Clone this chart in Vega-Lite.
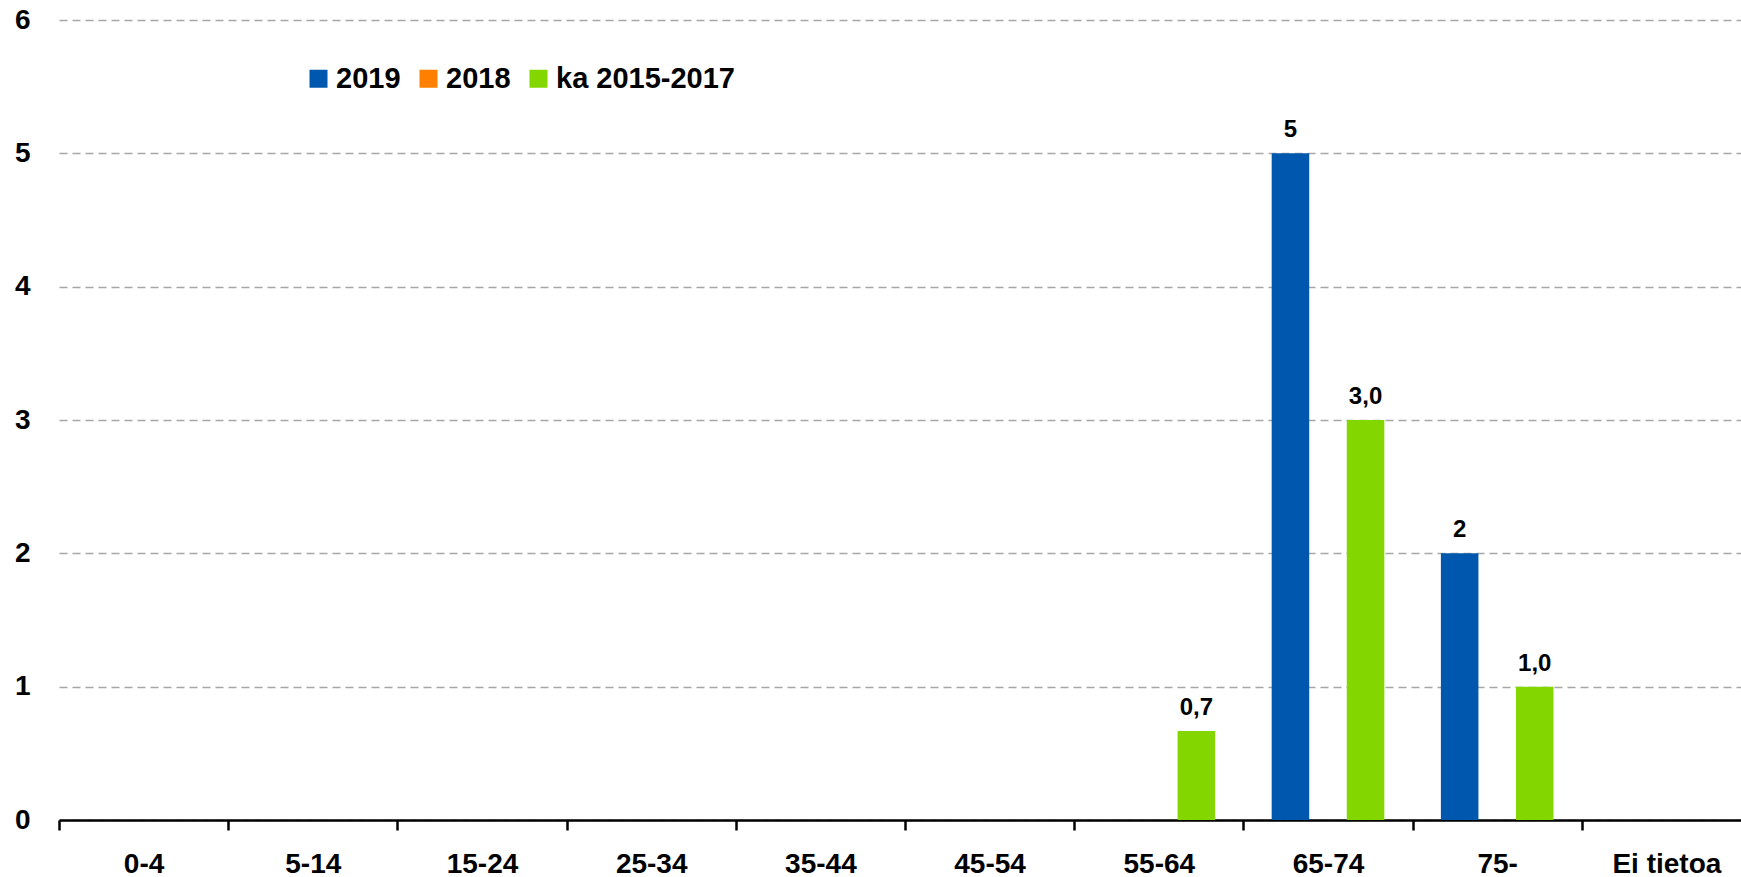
{
  "$schema": "https://vega.github.io/schema/vega-lite/v6.json",
  "width": 1682,
  "height": 800,
  "autosize": {"type": "none"},
  "padding": {"left": 59, "top": 20, "right": 0, "bottom": 57},
  "data": {
    "values": [
      {"ika": "65-74", "sarja": "2019", "arvo": 5},
      {"ika": "75-", "sarja": "2019", "arvo": 2},
      {"ika": "55-64", "sarja": "ka 2015-2017", "arvo": 0.6667},
      {"ika": "65-74", "sarja": "ka 2015-2017", "arvo": 3.0},
      {"ika": "75-", "sarja": "ka 2015-2017", "arvo": 1.0}
    ]
  },
  "encoding": {
    "x": {
      "field": "ika",
      "type": "nominal",
      "sort": null,
      "scale": {
        "domain": ["0-4", "5-14", "15-24", "25-34", "35-44", "45-54", "55-64", "65-74", "75-", "Ei tietoa"],
        "range": [0, 1692],
        "paddingInner": 0,
        "paddingOuter": 0
      },
      "axis": {
        "title": null,
        "labelAngle": 0,
        "tickBand": "extent",
        "domainColor": "#000000",
        "domainWidth": 2.5,
        "tickColor": "#000000",
        "tickWidth": 2.5,
        "tickSize": 10,
        "labelFont": "Liberation Sans",
        "labelFontWeight": "bold",
        "labelFontSize": 28,
        "labelColor": "#000000",
        "labelPadding": 20,
        "grid": false
      }
    },
    "xOffset": {
      "field": "sarja",
      "type": "nominal",
      "scale": {"domain": ["2019", "2018", "ka 2015-2017"], "paddingInner": 0, "paddingOuter": 0.753}
    },
    "y": {
      "field": "arvo",
      "type": "quantitative",
      "scale": {"domain": [0, 6], "nice": false},
      "axis": {
        "title": null,
        "values": [0, 1, 2, 3, 4, 5, 6],
        "domain": false,
        "ticks": false,
        "grid": true,
        "gridColor": "#a6a6a6",
        "gridWidth": 1.5,
        "gridDash": [8, 5],
        "labelFont": "Liberation Sans",
        "labelFontWeight": "bold",
        "labelFontSize": 28,
        "labelColor": "#000000",
        "labelPadding": 29
      }
    }
  },
  "layer": [
    {
      "mark": {"type": "bar"},
      "encoding": {
        "color": {
          "field": "sarja",
          "type": "nominal",
          "scale": {"domain": ["2019", "2018", "ka 2015-2017"], "range": ["#0058AE", "#FF7F00", "#83D600"]},
          "legend": {
            "title": null,
            "orient": "none",
            "direction": "horizontal",
            "legendX": 245,
            "legendY": 44,
            "padding": 0,
            "symbolType": "square",
            "symbolSize": 324,
            "symbolStrokeWidth": 0,
            "symbolOpacity": 1,
            "labelFont": "Liberation Sans",
            "labelFontWeight": "bold",
            "labelFontSize": 29,
            "labelColor": "#000000",
            "labelOffset": 3,
            "labelLimit": 400,
            "columnPadding": 13
          }
        }
      }
    },
    {
      "transform": [{"filter": "datum.sarja == '2019'"}],
      "mark": {"type": "text", "baseline": "alphabetic", "dy": -16, "font": "Liberation Sans", "fontWeight": "bold", "fontSize": 24, "color": "#000000"},
      "encoding": {"text": {"field": "arvo", "type": "quantitative", "format": "d"}}
    },
    {
      "transform": [{"filter": "datum.sarja == 'ka 2015-2017'"}],
      "mark": {"type": "text", "baseline": "alphabetic", "dy": -16, "font": "Liberation Sans", "fontWeight": "bold", "fontSize": 24, "color": "#000000"},
      "encoding": {"text": {"field": "arvo", "type": "quantitative", "format": ".1f"}}
    }
  ],
  "config": {
    "view": {"stroke": null},
    "locale": {"number": {"decimal": ",", "thousands": "\u00a0", "grouping": [3], "currency": ["", "\u00a0€"]}}
  }
}
